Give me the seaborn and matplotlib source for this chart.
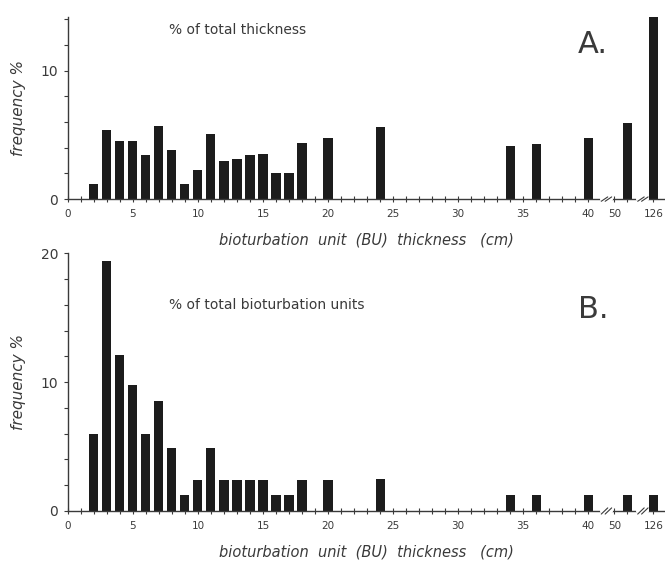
import numpy as np
import pandas as pd
import matplotlib
matplotlib.use("Agg")
import matplotlib.pyplot as plt
import seaborn as sns

# BU thickness classes (cm); beyond 40 cm the axis is broken
thickness = [2, 3, 4, 5, 6, 7, 8, 9, 10, 11, 12, 13, 14, 15, 16, 17, 18,
             20, 24, 34, 36, 40, 52, 126]
# A. % of total thickness
pct_thickness = [1.15, 5.4, 4.5, 4.5, 3.4, 5.7, 3.8, 1.15, 2.3, 5.1, 3.0, 3.15,
                 3.4, 3.5, 2.0, 2.0, 4.35, 4.8, 5.65, 4.1, 4.3, 4.75, 5.95, 14.8]
# B. % of total bioturbation units
pct_units = [6.0, 19.4, 12.1, 9.8, 6.0, 8.5, 4.85, 1.22, 2.44, 4.85, 2.44, 2.44,
             2.44, 2.44, 1.22, 1.22, 2.44, 2.44, 2.5, 1.22, 1.22, 1.22, 1.22, 1.22]

tick_values = [0, 5, 10, 15, 20, 25, 30, 35, 40, 50, 126]
# where the broken part of the axis puts values > 40
break_pos = {50: 42, 52: 43, 126: 45}
breaks = [41.4, 44.2]


def axis_pos(v):
    return break_pos.get(v, v)


sns.set_style("white")
plt.rcParams['font.family'] = ['DejaVu Sans']
ink = "#1c1c1c"
txt = "#3a3a3a"

fig = plt.figure(figsize=(6.65, 5.64), dpi=100)
axA = fig.add_axes([0.102, 0.647, 0.898, 0.323])
axB = fig.add_axes([0.102, 0.094, 0.898, 0.457])

x_pos = [axis_pos(t) for t in thickness]
panels = [
    (axA, pct_thickness, 14.2, [0, 10], "% of total thickness", "A.", 0.93, 0.85),
    (axB, pct_units, 20, [0, 10, 20], "% of total bioturbation units", "B.", 0.80, 0.78),
]

for ax, vals, ytop, ylabels, title, letter, ty, ly in panels:
    df = pd.DataFrame({"pos": x_pos, "pct": vals})
    sns.barplot(data=df, x="pos", y="pct", native_scale=True, width=0.7,
                color=ink, saturation=1, edgecolor=ink, linewidth=0, ax=ax)
    ax.set_xlim(0, 45.9)
    ax.set_ylim(0, ytop)
    sns.despine(ax=ax)
    for s in ["left", "bottom"]:
        ax.spines[s].set_color(txt)
        ax.spines[s].set_linewidth(1.0)

    ax.set_xticks([axis_pos(t) for t in tick_values])
    ax.set_xticklabels([str(t) for t in tick_values], fontsize=7.5, color=txt)
    minor = list(range(1, 41)) + [43, 45]
    ax.set_xticks(minor, minor=True)
    ax.tick_params(axis="x", which="both", bottom=True, direction="inout",
                   length=4, width=0.8, color=txt, pad=5)
    ax.set_yticks(np.arange(0, ytop + 0.01, 2), minor=True)
    ax.set_yticks(ylabels)
    ax.set_yticklabels([str(v) for v in ylabels], fontsize=10, color=txt)
    ax.tick_params(axis="y", which="both", left=True, direction="out",
                   length=3, width=0.8, color=txt, pad=4)

    # axis breaks
    for b in breaks:
        ax.plot([b - 0.35, b + 0.35], [0, 0], color="white", lw=3,
                transform=ax.get_xaxis_transform(), clip_on=False, zorder=5)
        for dx in (-0.15, 0.15):
            ax.plot([b + dx - 0.25, b + dx + 0.25], [-0.012, 0.012],
                    color=txt, lw=0.8, transform=ax.get_xaxis_transform(),
                    clip_on=False, zorder=6)

    ax.set_ylabel("frequency %", fontsize=11, style="italic", color=txt)
    ax.set_xlabel("bioturbation  unit  (BU)  thickness   (cm)", fontsize=10.5,
                  style="italic", color=txt, labelpad=10)
    ax.text(7.8, ty, title, transform=ax.get_xaxis_transform(),
            fontsize=10, color=txt, va="center")
    ax.text(39.2, ly, letter, transform=ax.get_xaxis_transform(),
            fontsize=22, color=txt, va="center")
    ax.yaxis.set_label_coords(-0.07, 0.5)

fig.savefig("out.png", dpi=100)
